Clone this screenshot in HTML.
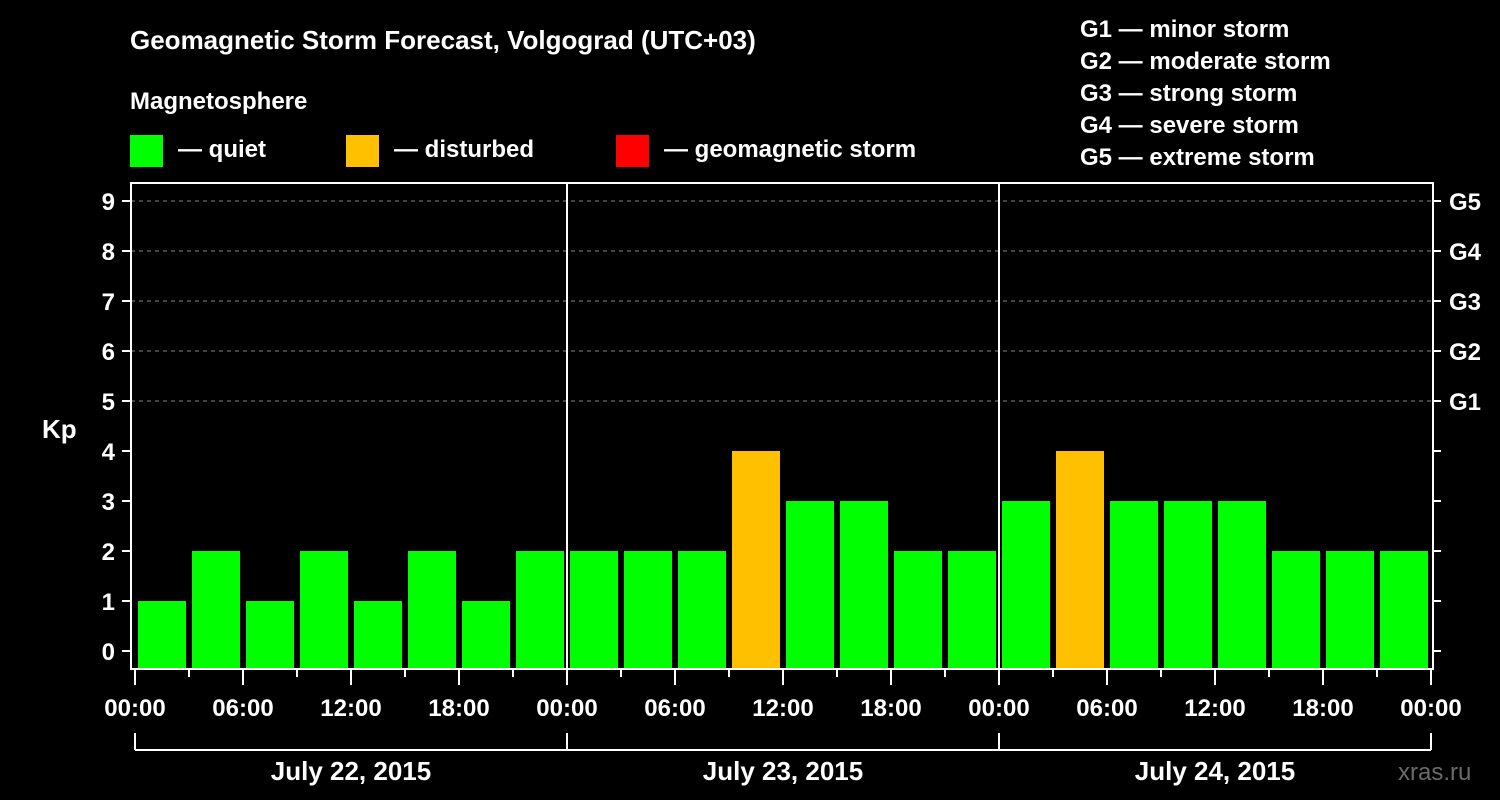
<!DOCTYPE html>
<html><head><meta charset="utf-8">
<style>
html,body{margin:0;padding:0;background:#000;width:1500px;height:800px;overflow:hidden}
svg text{font-family:"Liberation Sans",Arial,sans-serif;font-weight:bold;fill:#fff}
</style></head>
<body>
<svg id="chart" width="1500" height="800" viewBox="0 0 1500 800" xmlns="http://www.w3.org/2000/svg">
<text x="130" y="49" font-size="26">Geomagnetic Storm Forecast, Volgograd (UTC+03)</text>
<text x="130" y="109" font-size="24">Magnetosphere</text>
<g>
<rect x="130" y="135" width="33" height="32" fill="#00ff00"/>
<text x="178" y="157" font-size="24">— quiet</text></g>
<g>
<rect x="346" y="135" width="33" height="32" fill="#ffc000"/>
<text x="394" y="157" font-size="24">— disturbed</text></g>
<g>
<rect x="616" y="135" width="33" height="32" fill="#ff0000"/>
<text x="664" y="157" font-size="24">— geomagnetic storm</text></g>
<g font-size="24">
<text x="1080" y="37">G1 — minor storm</text>
<text x="1080" y="69">G2 — moderate storm</text>
<text x="1080" y="101">G3 — strong storm</text>
<text x="1080" y="133">G4 — severe storm</text>
<text x="1080" y="165">G5 — extreme storm</text>
</g>
<text x="42" y="438" font-size="26">Kp</text>
<text x="1398" y="780" font-size="24" fill="#555" style="fill:#6a6a6a;font-weight:normal">xras.ru</text>
<g id="grid"></g><g id="bars"></g><g id="axes"></g>
</svg>
<script>
const kpValues = [1,2,1,2,1,2,1,2, 2,2,2,4,3,3,2,2, 3,4,3,3,3,2,2,2];
const dayLabels = ["July 22, 2015","July 23, 2015","July 24, 2015"];
const hourLabels = ["00:00","06:00","12:00","18:00"];
const kpTicks = [0,1,2,3,4,5,6,7,8,9];
const gLabels = ["G1","G2","G3","G4","G5"];

const NS="http://www.w3.org/2000/svg";
const X0=135, DAYW=432, L=131, R=1433, TOP=183, BOT=669;
function xs(i){return X0+i*DAYW/8;}           // bar slot index -> x
function ys(v){return 651-v*50;}               // Kp -> y
function mk(tag,attrs,parent){const e=document.createElementNS(NS,tag);for(const k in attrs)e.setAttribute(k,attrs[k]);parent.appendChild(e);return e;}
const grid=document.getElementById('grid'),bars=document.getElementById('bars'),axes=document.getElementById('axes');

// gridlines for Kp >=5
kpTicks.filter(v=>v>=5).forEach(v=>{
  const l=mk('line',{x1:L,x2:R,y1:ys(v),y2:ys(v),stroke:'#888','stroke-dasharray':'4,4','stroke-width':1},grid);
  
  
});
// bars
kpValues.forEach((v,i)=>{
  const y=ys(v);
  const r=mk('rect',{x:xs(i)+3,y:y,width:48,height:BOT-1-y,fill:v>=5?'#ff0000':(v>=4?'#ffc000':'#00ff00')},bars);
  
  
});
// frame
const fr=mk('rect',{x:L,y:TOP,width:R-L,height:BOT-TOP,fill:'none',stroke:'#fff','stroke-width':2},axes);


// day separators
for(let d=1;d<dayLabels.length;d++){
  const l=mk('line',{x1:X0+d*DAYW,x2:X0+d*DAYW,y1:TOP,y2:BOT,stroke:'#fff','stroke-width':2},axes);
  
  
}
// y ticks and labels
kpTicks.forEach(v=>{
  mk('line',{x1:122,x2:L,y1:ys(v),y2:ys(v),stroke:'#fff','stroke-width':2},axes);
  mk('line',{x1:R,x2:1441,y1:ys(v),y2:ys(v),stroke:'#fff','stroke-width':2},axes);
  const t=mk('text',{x:115,y:ys(v)+9,'font-size':24,'text-anchor':'end'},axes);
  t.textContent=v;
  
  
});
gLabels.forEach((g,i)=>{
  const t=mk('text',{x:1449,y:ys(5+i)+9,'font-size':24},axes);
  t.textContent=g;
  
  
});
// x ticks
for(let i=0;i<=kpValues.length;i++){
  const major=i%2===0;
  mk('line',{x1:xs(i),x2:xs(i),y1:BOT,y2:major?685:677,stroke:'#fff','stroke-width':2},axes);
}
for(let d=0;d<=dayLabels.length;d++){
  const n=d===dayLabels.length?1:4;
  for(let h=0;h<n;h++){
    const t=mk('text',{x:X0+d*DAYW+h*DAYW/4,y:716,'font-size':24,'text-anchor':'middle'},axes);
    t.textContent=hourLabels[h];
    
    
  }
}
// day brackets
mk('line',{x1:X0,x2:X0+dayLabels.length*DAYW,y1:750,y2:750,stroke:'#fff','stroke-width':2},axes);
for(let d=0;d<=dayLabels.length;d++) mk('line',{x1:X0+d*DAYW,x2:X0+d*DAYW,y1:733,y2:750,stroke:'#fff','stroke-width':2},axes);
dayLabels.forEach((s,d)=>{
  const t=mk('text',{x:X0+d*DAYW+DAYW/2,y:780,'font-size':26,'text-anchor':'middle'},axes);
  t.textContent=s;
  
  
});
</script>
</body></html>
